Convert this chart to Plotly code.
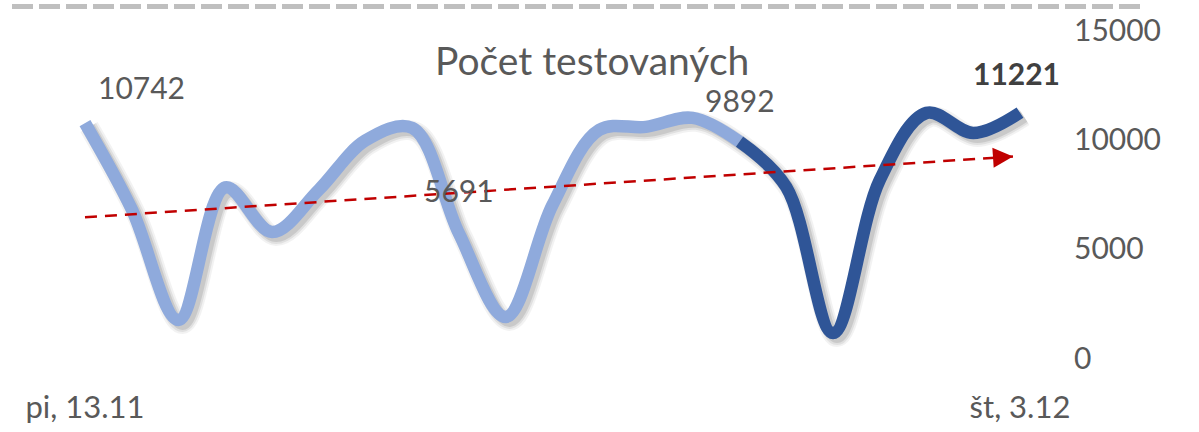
import plotly.graph_objects as go

# ---- data ----
day_labels = ["pi, 13.11", "so, 14.11", "ne, 15.11", "po, 16.11", "ut, 17.11", "st, 18.11", "št, 19.11",
              "pi, 20.11", "so, 21.11", "ne, 22.11", "po, 23.11", "ut, 24.11", "st, 25.11", "št, 26.11",
              "pi, 27.11", "so, 28.11", "ne, 29.11", "po, 30.11", "ut, 1.12", "st, 2.12", "št, 3.12"]
tested = [10742, 6800, 1740, 7800, 5760, 7690, 9950, 10520, 5691, 1880, 7000,
          10430, 10570, 10980, 9892, 7820, 1140, 8140, 11210, 10290, 11221]
split_index = 14          # last 7 days drawn dark
trend_values = [6435, 9213]
trend_days = [0, 19.85]
label_days = [0, 8, 14]
title_text = "Počet testovaných"
y_ticks = [0, 5000, 10000, 15000]
y_ticktext = ["0", "5000", "10000", "15000"]

days = list(range(len(tested)))

LIGHT = "#8faadc"
DARK = "#2f5597"
TXT = "#595959"
FONT = "Lato"

# geometry (body margin removed via post_script)
W, H = 1199, 432
L, R, T, B = 30, 134, 30, 74
plot_w = W - L - R
plot_h = H - T - B
px_per_day = (1020 - 85) / 20
x0 = -(85 - L) / px_per_day
x1 = x0 + plot_w / px_per_day
y_rng = [0, 15000]
px_per_val = plot_h / (y_rng[1] - y_rng[0])


def paper_x(page_px):
    return (page_px - L) / plot_w


def paper_y(page_py):
    return 1 - (page_py - T) / plot_h


fig = go.Figure()

# shadow traces on base axes (shifted ranges) -> drawn underneath
sx, sy = 4, 4
for w, op in [(20, 0.05), (16, 0.07), (12, 0.10)]:
    fig.add_trace(go.Scatter(x=days, y=tested, mode="lines", xaxis="x", yaxis="y",
                             line=dict(color=f"rgba(0,0,0,{op})", width=w, shape="spline"),
                             hoverinfo="skip", showlegend=False))

# main lines on overlay axes (drawn on top)
fig.add_trace(go.Scatter(x=days[:split_index + 1], y=tested[:split_index + 1], mode="lines",
                         xaxis="x2", yaxis="y2",
                         line=dict(color=LIGHT, width=12.5, shape="spline"), showlegend=False))
fig.add_trace(go.Scatter(x=days[split_index:], y=tested[split_index:], mode="lines",
                         xaxis="x2", yaxis="y2",
                         line=dict(color=DARK, width=12.5, shape="spline"), showlegend=False))

# trend (dashed) + arrow head
fig.add_trace(go.Scatter(x=trend_days, y=trend_values, mode="lines", xaxis="x2", yaxis="y2",
                         line=dict(color="#c00000", width=2.5, dash="12px,8px"), showlegend=False))
slope = (trend_values[1] - trend_values[0]) / (trend_days[1] - trend_days[0])
fig.add_annotation(x=trend_days[1], y=trend_values[1], ax=trend_days[1] - 0.3,
                   ay=trend_values[1] - 0.3 * slope, axref="x2", ayref="y2", xref="x2", yref="y2",
                   text="", showarrow=True, arrowhead=2, arrowsize=1.6, arrowwidth=2.5,
                   arrowcolor="#c00000", standoff=0)

# data labels
label_offsets = {0: (56, 36), 8: (0, 44), 14: (0, 42)}
for d in label_days:
    dx, dy = label_offsets[d]
    fig.add_annotation(x=d, y=tested[d], xref="x2", yref="y2", text=str(tested[d]), showarrow=False,
                       xshift=dx, yshift=dy, font=dict(family=FONT, size=30, color=TXT))
last = len(tested) - 1
fig.add_annotation(x=last, y=tested[last], xref="x2", yref="y2", text=f"<b>{tested[last]}</b>",
                   showarrow=False, xshift=-4, yshift=40, font=dict(family=FONT, size=30, color="#404040"))

# title
fig.add_annotation(x=paper_x(592), y=paper_y(60), xref="paper", yref="paper",
                   xanchor="center", yanchor="middle",
                   text=title_text, showarrow=False,
                   font=dict(family=FONT, size=39, color=TXT))

# top dashed line
fig.add_shape(type="line", xref="paper", yref="paper", x0=paper_x(12), x1=paper_x(1146),
              y0=paper_y(6.5), y1=paper_y(6.5),
              line=dict(color="#bfbfbf", width=5, dash="21px,6px"))

fig.update_layout(
    width=W, height=H, margin=dict(l=L, r=R, t=T, b=B),
    paper_bgcolor="white", plot_bgcolor="white", showlegend=False,
    xaxis=dict(range=[x0 - sx / px_per_day, x1 - sx / px_per_day], visible=False,
               showgrid=False, zeroline=False, automargin=False),
    yaxis=dict(range=[y_rng[0] + sy / px_per_val, y_rng[1] + sy / px_per_val], visible=False,
               showgrid=False, zeroline=False, automargin=False),
    xaxis2=dict(range=[x0, x1], overlaying="x", tickvals=[0, last],
                ticktext=[day_labels[0], day_labels[last]],
                showgrid=False, zeroline=False, showline=False, ticks="", automargin=False,
                tickfont=dict(family=FONT, size=31, color=TXT), ticklabelstandoff=28),
    yaxis2=dict(range=y_rng, overlaying="y", side="right", tickvals=y_ticks, ticktext=y_ticktext,
                showgrid=False, zeroline=False, showline=False, ticks="", automargin=False,
                tickfont=dict(family=FONT, size=30, color=TXT), ticklabelstandoff=8),
)

fig.write_html("out.html", config={"displayModeBar": False},
               post_script="document.body.style.margin='0';")
